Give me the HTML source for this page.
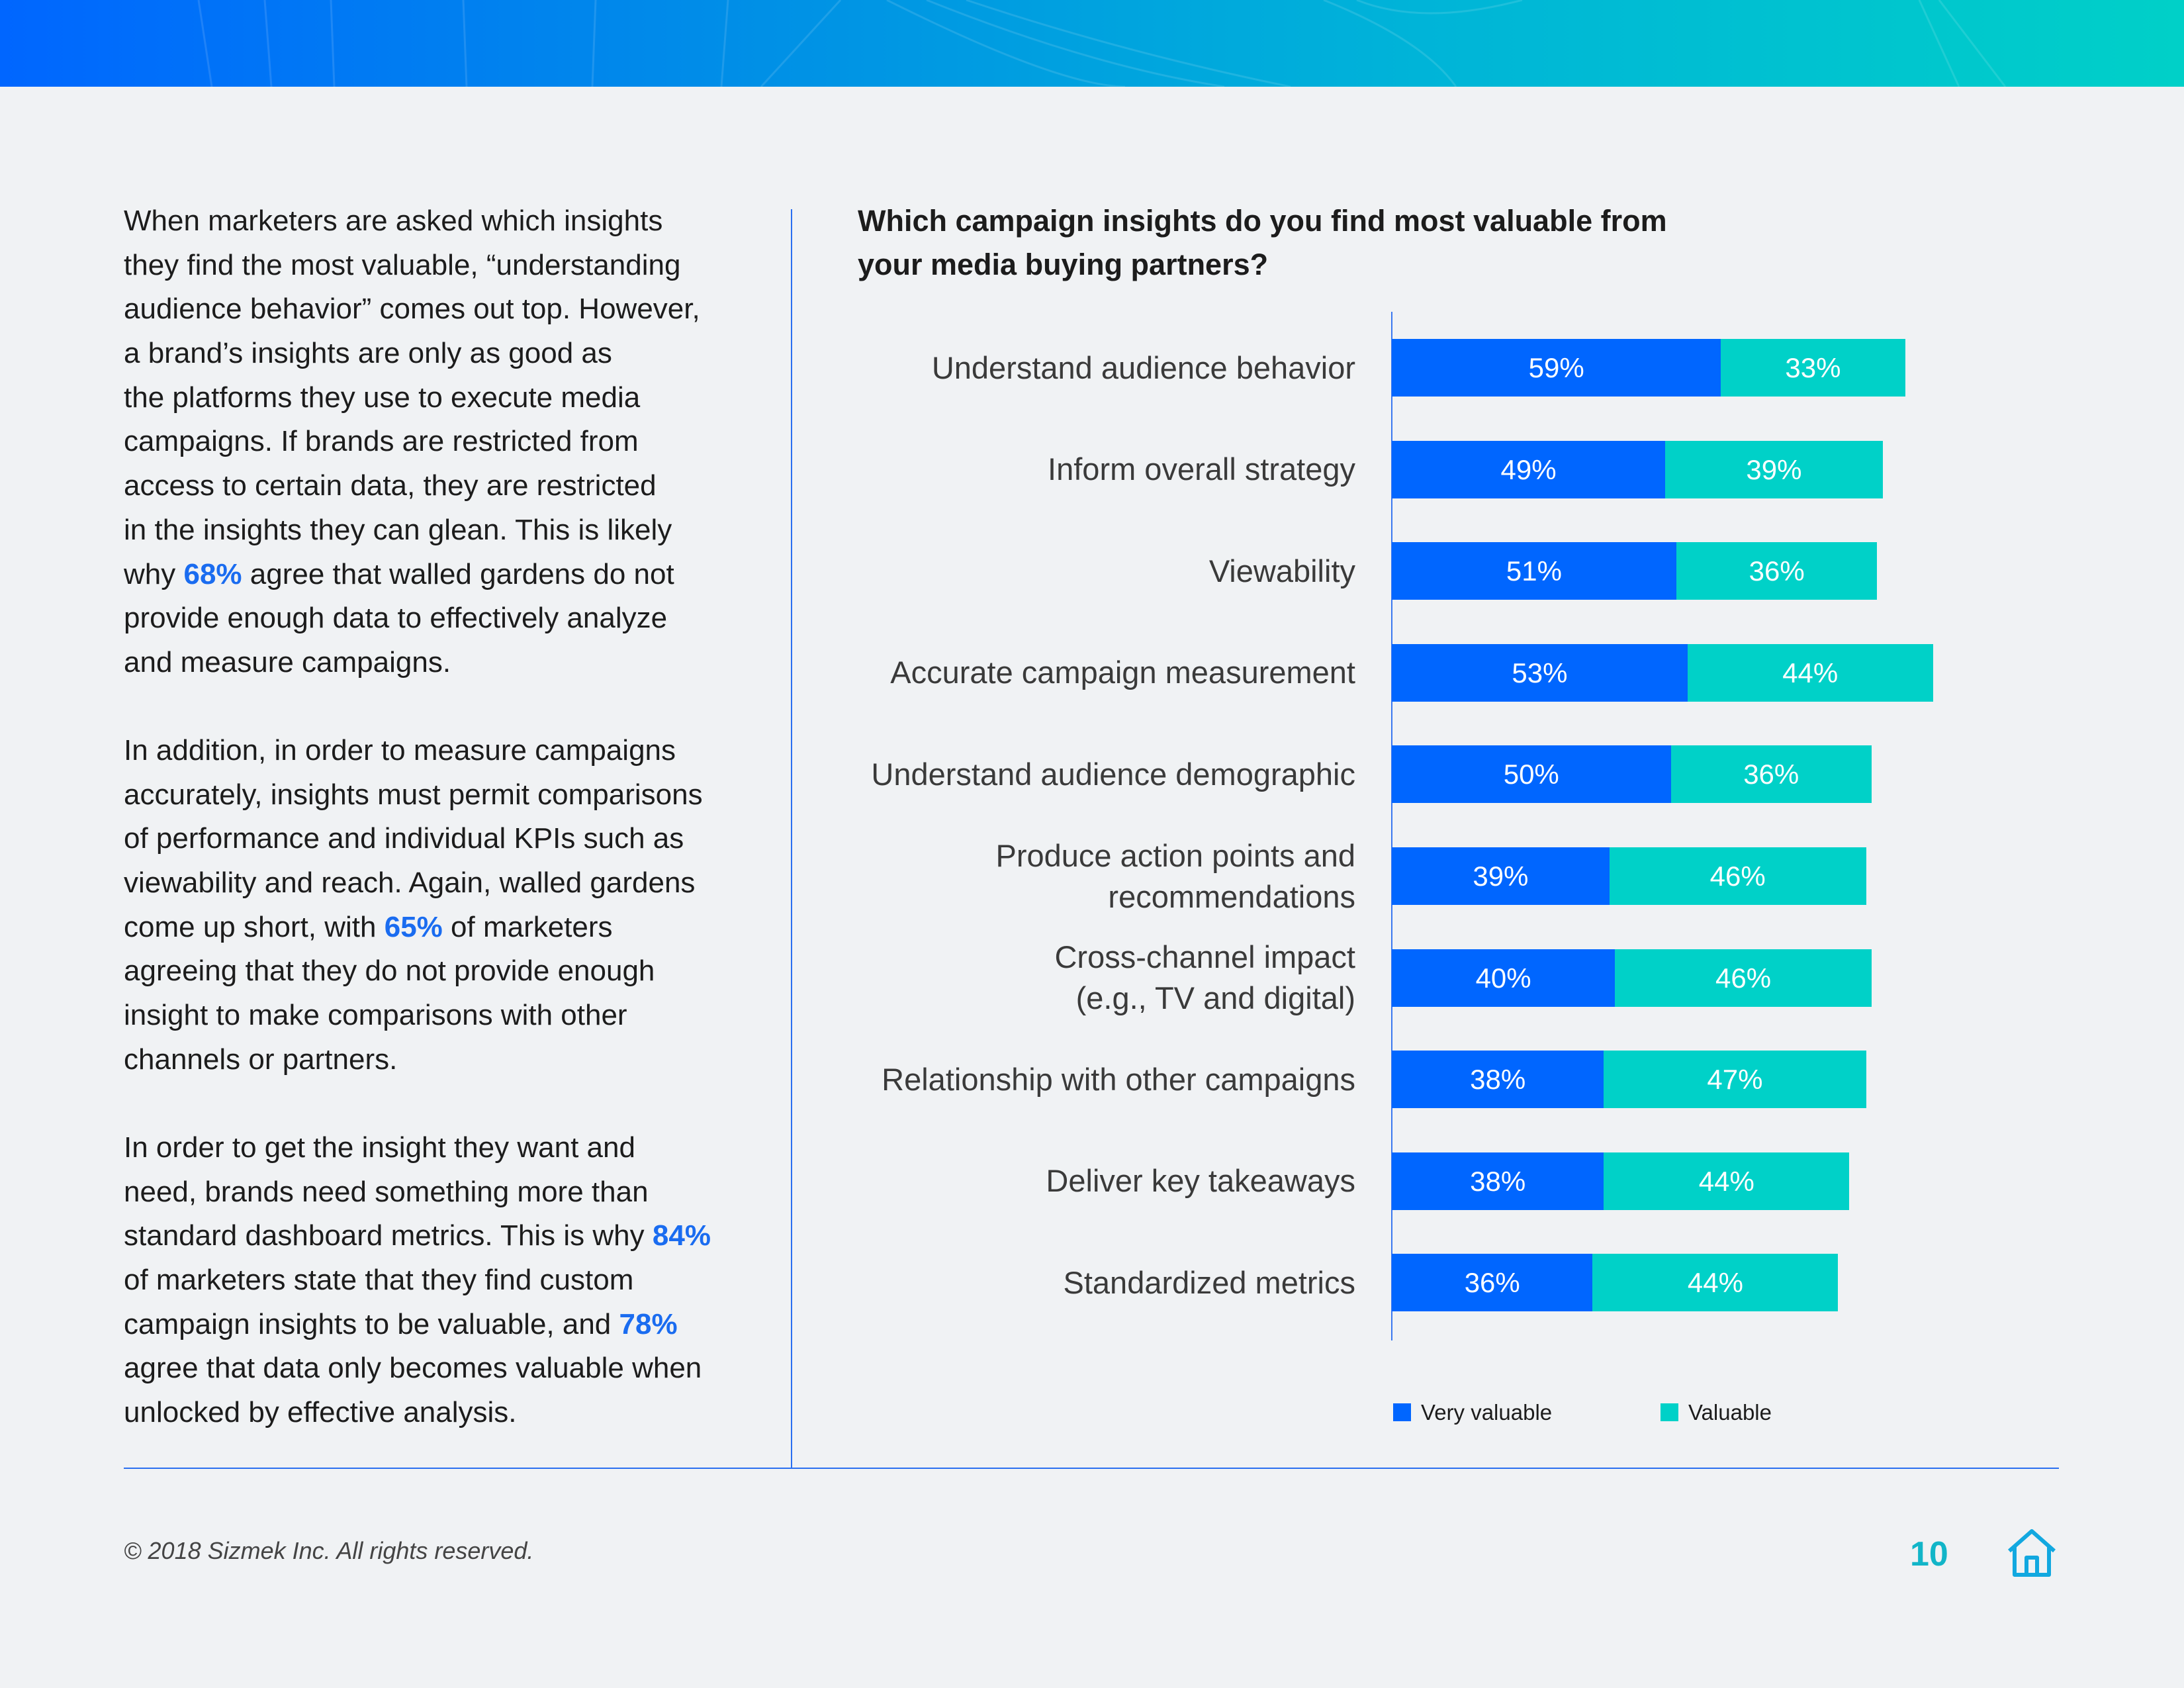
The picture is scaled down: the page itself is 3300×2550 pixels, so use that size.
<!DOCTYPE html>
<html><head><meta charset="utf-8">
<style>
body{margin:0;width:3300px;height:2550px;background:#f0f2f4;position:relative;overflow:hidden;font-family:"Liberation Sans",sans-serif;color:#1c1c1c}
.abs{position:absolute}
#banner{left:0;top:0;width:3300px;height:131px;background:linear-gradient(90deg,#0066ff 0%,#0090e6 35%,#00b4d8 65%,#00d0c8 100%)}
.para div{height:66.7px;line-height:66.7px;font-size:44px;white-space:nowrap}
.hl{color:#1a6cf0;font-weight:bold}
.title div{height:66px;line-height:66px;font-size:45px;font-weight:bold;white-space:nowrap}
.cat{font-size:47px;color:#3a3a3a;text-align:right;right:1252px;line-height:62px;white-space:nowrap}
.val{font-size:42px;color:#fff;text-align:center;line-height:87px}
</style></head><body>
<div id="banner" class="abs">
<svg width="3300" height="131" style="position:absolute;left:0;top:0">
<g fill="none" stroke="rgba(255,255,255,0.12)" stroke-width="3">
<path d="M1340,0 Q1600,130 1700,131"/><path d="M1400,0 Q1650,100 1850,131"/><path d="M1460,0 Q1700,80 1950,131"/>
<path d="M2000,0 Q2150,60 2200,131"/><path d="M2050,0 Q2150,40 2300,0"/><path d="M2900,0 L2960,131"/><path d="M2930,0 L3030,131"/>
<path d="M300,0 L320,131"/><path d="M400,0 L410,131"/><path d="M500,0 L505,131"/><path d="M700,0 L705,131"/><path d="M900,0 L895,131"/><path d="M1100,0 L1090,131"/><path d="M1270,0 L1150,131"/>
</g></svg></div>

<div class="abs para" style="left:187px;top:301px">
<div>When marketers are asked which insights</div>
<div>they find the most valuable, “understanding</div>
<div>audience behavior” comes out top. However,</div>
<div>a brand’s insights are only as good as</div>
<div>the platforms they use to execute media</div>
<div>campaigns. If brands are restricted from</div>
<div>access to certain data, they are restricted</div>
<div>in the insights they can glean. This is likely</div>
<div>why <span class="hl">68%</span> agree that walled gardens do not</div>
<div>provide enough data to effectively analyze</div>
<div>and measure campaigns.</div>
</div>
<div class="abs para" style="left:187px;top:1101px">
<div>In addition, in order to measure campaigns</div>
<div>accurately, insights must permit comparisons</div>
<div>of performance and individual KPIs such as</div>
<div>viewability and reach. Again, walled gardens</div>
<div>come up short, with <span class="hl">65%</span> of marketers</div>
<div>agreeing that they do not provide enough</div>
<div>insight to make comparisons with other</div>
<div>channels or partners.</div>
</div>
<div class="abs para" style="left:187px;top:1701px">
<div>In order to get the insight they want and</div>
<div>need, brands need something more than</div>
<div>standard dashboard metrics. This is why <span class="hl">84%</span></div>
<div>of marketers state that they find custom</div>
<div>campaign insights to be valuable, and <span class="hl">78%</span></div>
<div>agree that data only becomes valuable when</div>
<div>unlocked by effective analysis.</div>
</div>

<div class="abs" style="left:1195px;top:316px;width:2px;height:1902px;background:#2a6ff0"></div>
<div class="abs" style="left:187px;top:2217px;width:2924px;height:2px;background:#2a6ff0"></div>

<div class="abs title" style="left:1296px;top:301px">
<div>Which campaign insights do you find most valuable from</div>
<div>your media buying partners?</div>
</div>

<div class="abs" style="left:2102px;top:471px;width:2px;height:1554px;background:#3a78f0"></div>
<div id="chart"></div>

<div class="abs" style="left:2105px;top:2120px;width:27px;height:27px;background:#0066ff"></div>
<div class="abs" style="left:2147px;top:2114px;font-size:33px;line-height:40px">Very valuable</div>
<div class="abs" style="left:2509px;top:2120px;width:27px;height:27px;background:#00d1c8"></div>
<div class="abs" style="left:2551px;top:2114px;font-size:33px;line-height:40px">Valuable</div>

<div class="abs" style="left:187px;top:2322px;font-size:36px;font-style:italic;color:#444">© 2018 Sizmek Inc. All rights reserved.</div>
<div class="abs" style="left:2886px;top:2318px;font-size:52px;font-weight:bold;color:#12b5c8">10</div>
<svg class="abs" style="left:3030px;top:2307px" width="80" height="76">
<path d="M6,36 L40,6 L74,36 M14,30 L14,72 L66,72 L66,30 M32,72 L32,46 L48,46 L48,72" fill="none" stroke="#12a8e0" stroke-width="6" stroke-linejoin="round"/>
</svg>

<script>
const categories=[["Understand audience behavior"],["Inform overall strategy"],["Viewability"],["Accurate campaign measurement"],["Understand audience demographic"],["Produce action points and","recommendations"],["Cross-channel impact","(e.g., TV and digital)"],["Relationship with other campaigns"],["Deliver key takeaways"],["Standardized metrics"]];
const veryValuable=[59,49,51,53,50,39,40,38,38,36];
const valuable=[33,39,36,44,36,46,46,47,44,44];
const X0=2103, PX=8.43, Y0=512, PITCH=153.6, BH=87;
const x=v=>v*PX;
const y=i=>Y0+i*PITCH;
const chart=document.getElementById('chart');
categories.forEach((c,i)=>{
  const top=y(i);
  const lab=document.createElement('div');
  lab.className='abs cat';
  
  
  lab.style.top=(top+BH/2-c.length*31)+'px';
  lab.innerHTML=c.join('<br>');
  chart.appendChild(lab);
  const w1=x(veryValuable[i]), w2=x(valuable[i]);
  const b1=document.createElement('div');
  b1.className='abs val';
  
  
  b1.style.cssText+=`left:${X0}px;top:${top}px;width:${w1}px;height:${BH}px;background:#0066ff`;
  b1.textContent=veryValuable[i]+'%';
  chart.appendChild(b1);
  const b2=document.createElement('div');
  b2.className='abs val';
  
  
  b2.style.cssText+=`left:${X0+w1}px;top:${top}px;width:${w2}px;height:${BH}px;background:#00d1c8`;
  b2.textContent=valuable[i]+'%';
  chart.appendChild(b2);
});
</script>
</body></html>
